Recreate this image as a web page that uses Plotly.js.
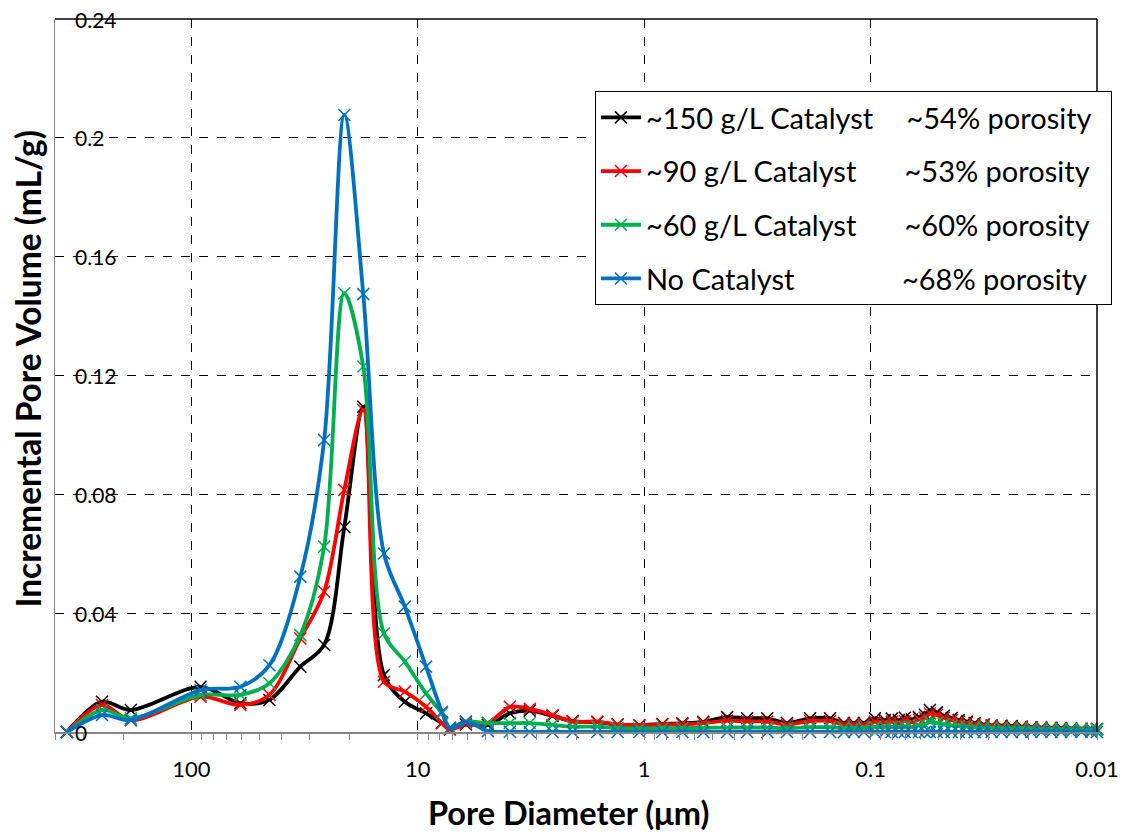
<!DOCTYPE html>
<html>
<head>
<meta charset="utf-8">
<script src="https://cdn.plot.ly/plotly-3.0.1.min.js"></script>
<style>
  html, body { margin: 0; padding: 0; background: #ffffff; }
  #chart { width: 1124px; height: 832px; }
</style>
</head>
<body>
<div id="chart"></div>
<script>
// Pore diameter (µm) of each measurement step
const diameter = [354, 248, 185, 91, 60.7, 45.2, 33.0, 25.9, 21.1, 17.4, 14.1, 11.4, 9.19, 7.82, 7.21,
  6.13, 4.90, 3.92, 3.20, 2.54, 2.07, 1.61, 1.31, 1.05, 0.831, 0.678, 0.548, 0.430, 0.351, 0.286,
  0.234, 0.185, 0.151, 0.131, 0.1185, 0.107, 0.0957, 0.0865, 0.0806, 0.075, 0.0706, 0.0658, 0.0612,
  0.0576, 0.0547, 0.051, 0.0475, 0.0438, 0.0408, 0.0376, 0.0347, 0.0317, 0.0292, 0.0264, 0.0238,
  0.0215, 0.0195, 0.0176, 0.0159, 0.0144, 0.013, 0.0117, 0.0106, 0.0100];

// Incremental pore volume (mL/g)
const cat150 = [0, 0.0102, 0.0074, 0.0152, 0.0097, 0.0108, 0.022, 0.0293, 0.069, 0.1095, 0.0192, 0.0102, 0.0063, 0.003, 0.0012,
  0.0025, 0.0024, 0.0063, 0.0072, 0.0054, 0.0037, 0.0033, 0.0025, 0.0023, 0.0027, 0.0029, 0.0034, 0.005, 0.0046, 0.0046,
  0.003, 0.0046, 0.0046, 0.003, 0.003, 0.003, 0.0046, 0.004, 0.0045, 0.004, 0.0048, 0.0042, 0.005,
  0.0058, 0.0074, 0.0066, 0.0055, 0.0047, 0.004, 0.0035, 0.003, 0.0025, 0.0022, 0.0021, 0.002,
  0.0018, 0.0016, 0.0015, 0.0014, 0.0013, 0.0012, 0.0011, 0.001, 0.001];

const cat90 = [0, 0.0091, 0.004, 0.0119, 0.0091, 0.0125, 0.0315, 0.0472, 0.0815, 0.1084, 0.0169, 0.0136, 0.0085, 0.003, 0.0008,
  0.0028, 0.003, 0.0085, 0.0078, 0.0057, 0.0035, 0.0035, 0.0025, 0.0023, 0.0025, 0.0026, 0.003, 0.0038, 0.0036, 0.0035,
  0.0025, 0.0037, 0.0037, 0.0025, 0.0025, 0.0025, 0.0035, 0.0032, 0.0035, 0.003, 0.0037, 0.0033, 0.0042,
  0.0048, 0.0062, 0.0057, 0.0048, 0.004, 0.0035, 0.003, 0.0026, 0.0022, 0.002, 0.0018, 0.0017,
  0.0016, 0.0015, 0.0013, 0.0012, 0.0011, 0.001, 0.001, 0.0009, 0.0009];

const cat60 = [0, 0.0074, 0.0046, 0.0125, 0.0125, 0.0164, 0.0326, 0.0624, 0.1477, 0.123, 0.0332, 0.0237, 0.013, 0.0063, 0.0015,
  0.0035, 0.003, 0.003, 0.003, 0.0024, 0.0018, 0.0018, 0.0013, 0.0012, 0.0013, 0.0013, 0.0014, 0.0015, 0.0015, 0.0015,
  0.0013, 0.0016, 0.0016, 0.0014, 0.0014, 0.0014, 0.0017, 0.0016, 0.0017, 0.0016, 0.0018, 0.0017, 0.0022,
  0.0026, 0.0035, 0.003, 0.0026, 0.0022, 0.002, 0.0018, 0.0016, 0.0015, 0.0014, 0.0013, 0.0012,
  0.0012, 0.0011, 0.001, 0.001, 0.0009, 0.0009, 0.0008, 0.0008, 0.0008];

const noCat = [0, 0.0057, 0.004, 0.0141, 0.0152, 0.0225, 0.0523, 0.0983, 0.2077, 0.1474, 0.0601, 0.0422, 0.022, 0.0068, 0.0013,
  0.0035, 0.0003, 0.0001, 0, 0, 0, 0, 0, 0, 0, 0, 0, 0, 0, 0,
  0, 0, 0, 0, 0, 0, 0, 0, 0, 0, 0, 0, 0,
  0, 0, 0, 0, 0, 0, 0, 0, 0, 0, 0, 0,
  0, 0, 0, 0, 0, 0, 0, 0, 0];

const NB = '\u00A0';
const THIN = '\u2009';
const seriesLabels = ['~150' + NB + 'g/L Catalyst', '~90' + NB + 'g/L Catalyst', '~60' + NB + 'g/L Catalyst', 'No Catalyst'];
const porosityLabels = ['~54% porosity', '~53% porosity', '~60% porosity', '~68% porosity'];
const labelGaps = [4, 6, 6, 14];
const seriesColors = ['#000000', '#FF0000', '#00B050', '#0070C0'];
const seriesValues = [cat150, cat90, cat60, noCat];

const xTickVals = [100, 10, 1, 0.1, 0.01];
const xTickText = ['100', '10', '1', '0.1', '0.01'];
const yTickVals = [0, 0.04, 0.08, 0.12, 0.16, 0.2, 0.24];
const yTickText = ['0', '0.04', '0.08', '0.12', '0.16', '0.2', '0.24'];
const xTitle = 'Pore Diameter (μm)';
const yTitle = 'Incremental Pore Volume (mL/g)';

const FONT = 'Lato, "Open Sans", "DejaVu Sans", sans-serif';

const minorVals = [];
for (let e = -2; e <= 2; e++) {
  for (let m = 2; m <= 9; m++) minorVals.push(m * Math.pow(10, e));
}

const traces = seriesValues.map((vals, i) => ({
  type: 'scatter',
  mode: 'lines+markers',
  x: diameter,
  y: vals,
  name: seriesLabels[i] + NB.repeat(labelGaps[i]) + THIN + porosityLabels[i] + (i === 0 ? NB + NB : ''),
  legendgroup: 'g' + i,
  line: { color: seriesColors[i], width: 3.8, shape: 'spline', smoothing: 0.9 },
  marker: { symbol: 'x-thin', size: 12, color: seriesColors[i], line: { color: seriesColors[i], width: 1.5 } },
  cliponaxis: false
}));

const annotations = yTickVals.map((v, i) => ({
  xref: 'paper', yref: 'y', x: 0, y: v,
  text: yTickText[i], showarrow: false,
  xanchor: 'left', yanchor: 'middle', xshift: 18,
  font: { family: FONT, size: 21, color: '#000000' }
}));
annotations.push({
  xref: 'paper', yref: 'paper', x: 0, y: 0.5,
  text: '<b>' + yTitle + '</b>', showarrow: false, textangle: -90,
  xanchor: 'center', yanchor: 'middle', xshift: -28, yshift: 7,
  font: { family: FONT, size: 33.5, color: '#000000' }
});
annotations.push({
  xref: 'paper', yref: 'paper', x: 0.5, y: 0,
  text: '<b>' + xTitle + '</b>', showarrow: false,
  xanchor: 'center', yanchor: 'middle', xshift: -8, yshift: -80,
  font: { family: FONT, size: 32.5, color: '#000000' }
});

const layout = {
  width: 1124,
  height: 832,
  paper_bgcolor: '#ffffff',
  plot_bgcolor: '#ffffff',
  margin: { l: 55, r: 21, t: 19, b: 100 },
  font: { family: FONT, color: '#000000', size: 20 },
  showlegend: true,
  legend: {
    x: (1118 - 55) / 1048, xanchor: 'right',
    y: 0.899, yanchor: 'top',
    bgcolor: '#ffffff',
    bordercolor: '#000000',
    borderwidth: 1,
    font: { family: FONT, size: 29, color: '#000000' },
    traceorder: 'grouped',
    tracegroupgap: 13,
    itemwidth: 40
  },
  xaxis: {
    type: 'log',
    range: [Math.log10(400), -2],
    tickmode: 'array',
    tickvals: xTickVals,
    ticktext: xTickText,
    ticks: 'outside',
    ticklen: 6,
    tickcolor: '#868686',
    tickwidth: 1,
    tickfont: { family: FONT, size: 22, color: '#000000' },
    ticklabelstandoff: 11,
    showline: true,
    linecolor: '#868686',
    linewidth: 1.5,
    showgrid: true,
    gridcolor: '#000000',
    griddash: 'dash',
    gridwidth: 1,
    zeroline: false,
    minor: { tickmode: 'array', tickvals: minorVals, ticks: 'outside', ticklen: 6, tickcolor: '#868686', showgrid: false }
  },
  yaxis: {
    range: [0, 0.24],
    tickmode: 'array',
    tickvals: yTickVals,
    ticktext: yTickText,
    ticks: '',
    showticklabels: false,
    showline: true,
    linecolor: '#868686',
    linewidth: 1.5,
    showgrid: true,
    gridcolor: '#000000',
    griddash: 'dash',
    gridwidth: 1,
    zeroline: false
  },
  annotations: annotations,
  shapes: [
    { type: 'line', xref: 'paper', yref: 'paper', x0: 0, x1: 1, y0: 1, y1: 1, line: { color: '#000000', width: 1.5 } },
    { type: 'line', xref: 'paper', yref: 'paper', x0: 1, x1: 1, y0: 0, y1: 1, line: { color: '#000000', width: 1.5 } }
  ]
};

Plotly.newPlot('chart', traces, layout, { displayModeBar: false, staticPlot: true });
</script>
</body>
</html>
